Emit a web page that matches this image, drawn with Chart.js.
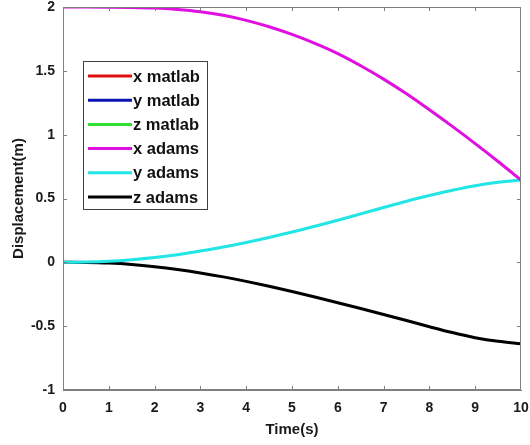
<!DOCTYPE html>
<html>
<head>
<meta charset="utf-8">
<script src="https://cdn.jsdelivr.net/npm/chart.js@4/dist/chart.umd.min.js"></script>
<style>
  html, body { margin: 0; padding: 0; background: #ffffff; }
  #wrap { width: 530px; height: 445px; }
</style>
</head>
<body>
<div id="wrap"><canvas id="c" width="530" height="445"></canvas></div>
<script>
// ---- data ----
const times = [0, 0.5, 1, 1.5, 2, 2.5, 3, 3.5, 4, 4.5, 5, 5.5, 6, 6.5, 7, 7.5, 8, 8.5, 9, 9.5, 10];
const xAdams = [2.000, 2.000, 1.999, 1.997, 1.992, 1.981, 1.963, 1.935, 1.895, 1.845, 1.785, 1.715, 1.635, 1.540, 1.435, 1.320, 1.195, 1.065, 0.930, 0.790, 0.645];
const yAdams = [0.000, 0.002, 0.008, 0.020, 0.037, 0.060, 0.088, 0.120, 0.156, 0.195, 0.237, 0.283, 0.330, 0.380, 0.430, 0.478, 0.523, 0.564, 0.600, 0.627, 0.645];
const zAdams = [0.000, -0.001, -0.006, -0.017, -0.034, -0.056, -0.083, -0.114, -0.149, -0.187, -0.228, -0.271, -0.316, -0.362, -0.409, -0.456, -0.504, -0.550, -0.590, -0.619, -0.638];
// MATLAB results coincide with the ADAMS curves (hidden underneath)
const xMatlab = xAdams.slice();
const yMatlab = yAdams.slice();
const zMatlab = zAdams.slice();
const seriesNames = ['x matlab', 'y matlab', 'z matlab', 'x adams', 'y adams', 'z adams'];
const seriesColors = ['#e01010', '#0a14b4', '#30e030', '#e010e0', '#22e6e6', '#000000'];
const xTickLabels = ['0', '1', '2', '3', '4', '5', '6', '7', '8', '9', '10'];
const yTickLabels = ['-1', '-0.5', '0', '0.5', '1', '1.5', '2'];

const seriesValues = [xMatlab, yMatlab, zMatlab, xAdams, yAdams, zAdams];
const toPoints = arr => times.map((t, i) => ({ x: t, y: arr[i] }));

const datasets = seriesNames.map((name, i) => ({
  label: name,
  data: toPoints(seriesValues[i]),
  borderColor: seriesColors[i],
  backgroundColor: seriesColors[i],
  borderWidth: i < 3 ? 1.5 : 3,
  pointRadius: 0,
  cubicInterpolationMode: 'monotone',
  fill: false,
  order: i < 3 ? 1 : 0   // adams curves drawn on top
}));

const FONT = '"Liberation Sans", Arial, sans-serif';
const AXIS_COLOR = '#808080';

const boxPlugin = {
  id: 'boxPlugin',
  afterDraw(chart) {
    const { ctx, chartArea: a, scales } = chart;
    ctx.save();
    ctx.strokeStyle = AXIS_COLOR;
    ctx.lineWidth = 1;
    ctx.strokeRect(Math.round(a.left) + 0.5, Math.round(a.top) + 0.5,
                   Math.round(a.right - a.left) - 1, Math.round(a.bottom - a.top) - 1);
    const L = 4;
    ctx.beginPath();
    scales.x.ticks.forEach(t => {
      const px = Math.round(scales.x.getPixelForValue(t.value)) + 0.5;
      if (t.value === 0 || t.value === 10) return;
      ctx.moveTo(px, a.bottom); ctx.lineTo(px, a.bottom - L);
      ctx.moveTo(px, a.top); ctx.lineTo(px, a.top + L);
    });
    scales.y.ticks.forEach(t => {
      const py = Math.round(scales.y.getPixelForValue(t.value)) + 0.5;
      if (t.value === -1 || t.value === 2) return;
      ctx.moveTo(a.left, py); ctx.lineTo(a.left + L, py);
      ctx.moveTo(a.right, py); ctx.lineTo(a.right - L, py);
    });
    ctx.stroke();

    // legend box
    const bx = 83, by = 61, bw = 124, bh = 148;
    ctx.fillStyle = '#ffffff';
    ctx.fillRect(bx, by, bw, bh);
    ctx.strokeStyle = '#404040';
    ctx.lineWidth = 1;
    ctx.strokeRect(bx + 0.5, by + 0.5, bw, bh);
    ctx.font = 'bold 16.5px ' + FONT;
    ctx.textBaseline = 'middle';
    ctx.textAlign = 'left';
    chart.data.datasets.forEach((ds, i) => {
      const ry = by + 15 + i * 24.2;
      ctx.strokeStyle = ds.borderColor;
      ctx.lineWidth = 3;
      ctx.beginPath();
      ctx.moveTo(bx + 5, ry); ctx.lineTo(bx + 49, ry);
      ctx.stroke();
      ctx.fillStyle = '#111111';
      ctx.fillText(ds.label, bx + 50, ry + 1);
    });
    ctx.restore();
  }
};

new Chart(document.getElementById('c'), {
  type: 'line',
  data: { datasets },
  options: {
    responsive: false,
    animation: false,
    devicePixelRatio: 1,
    layout: { padding: { top: 7, right: 9, left: 0, bottom: 0 } },
    plugins: { legend: { display: false }, tooltip: { enabled: false } },
    scales: {
      x: {
        type: 'linear', min: 0, max: 10,
        afterFit: s => { s.height = 55; s.paddingLeft = 0; s.paddingRight = 0; },
        afterBuildTicks: s => { s.ticks = xTickLabels.map(v => ({ value: Number(v) })); },
        ticks: {
          stepSize: 1, padding: 10, color: '#1a1a1a',
          font: { family: FONT, size: 14, weight: 'bold' },
          callback: v => xTickLabels.find(l => Number(l) === v) ?? ''
        },
        grid: { drawOnChartArea: false, drawTicks: false },
        border: { color: AXIS_COLOR },
        title: {
          display: true, text: 'Time(s)', color: '#1a1a1a',
          font: { family: FONT, size: 15, weight: 'bold' },
          padding: { top: 0, bottom: 6 }
        }
      },
      y: {
        type: 'linear', min: -1, max: 2,
        afterFit: s => { s.width = 63; s.paddingTop = 0; s.paddingBottom = 0; },
        afterBuildTicks: s => { s.ticks = yTickLabels.map(v => ({ value: Number(v) })); },
        ticks: {
          stepSize: 0.5, padding: 8, color: '#1a1a1a',
          font: { family: FONT, size: 14, weight: 'bold' },
          callback: v => yTickLabels.find(l => Number(l) === v) ?? ''
        },
        grid: { drawOnChartArea: false, drawTicks: false },
        border: { color: AXIS_COLOR },
        title: {
          display: true, text: 'Displacement(m)', color: '#1a1a1a',
          font: { family: FONT, size: 15, weight: 'bold' },
          padding: { top: 10, bottom: 0 }
        }
      }
    }
  },
  plugins: [boxPlugin]
});
</script>
</body>
</html>
